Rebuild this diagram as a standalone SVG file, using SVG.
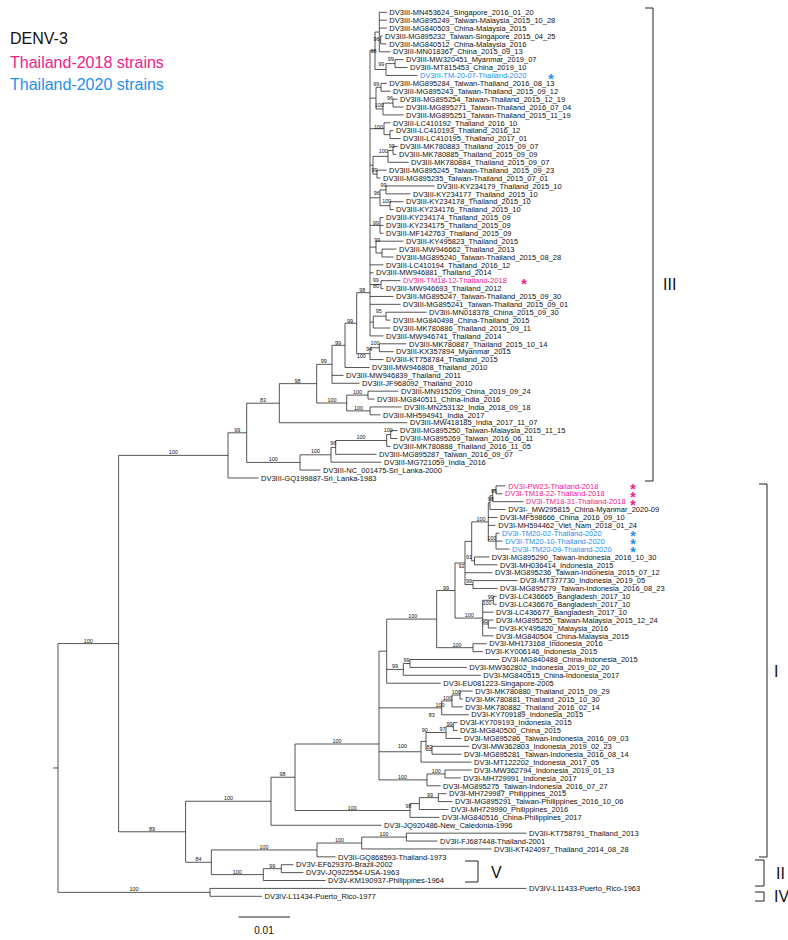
<svg xmlns="http://www.w3.org/2000/svg" width="788" height="940" viewBox="0 0 788 940">
<style>
text{font-family:"Liberation Sans",Arial,Helvetica,sans-serif;fill:#111}
.l{font-size:7.5px}
.b{font-size:5.4px;text-anchor:middle}
.p{fill:#f0208c}
.c{fill:#1e8ff0}
.ast{font-size:14px;font-weight:bold;text-anchor:middle}
.t path{fill:none;stroke:#1c1c1c;stroke-width:0.75}
.br{fill:none;stroke:#222;stroke-width:1}
.gl{font-size:16px}
.lg{font-size:16px}
</style>
<rect width="788" height="940" fill="#fff"/>
<g id="legend">
<text class="lg" x="10" y="44">DENV-3</text>
<text class="lg p" x="10" y="67.5">Thailand-2018 strains</text>
<text class="lg c" x="10" y="90">Thailand-2020 strains</text>
</g>
<g id="connectors" class="t">
<path d="M380.7,35.98V43.87M380.7,35.98H382.5M380.7,43.87H386.5"/>
<path d="M379.3,12.3V51.77M379.3,12.3H386.8M379.3,20.19H386.8M379.3,28.09H386.8M379.3,39.93H380.7M379.3,51.77H390.5"/>
<path d="M395,59.66V67.55M395,59.66H403.5M395,67.55H407.5"/>
<path d="M386,63.6V75.44M386,63.6H395M386,75.44H417.5"/>
<path d="M375,32.04V69.52M375,32.04H379.3M375,69.52H386"/>
<path d="M381,83.34V91.23M381,83.34H386.8M381,91.23H390.5"/>
<path d="M393,99.12V107.02M393,99.12H397.5M393,107.02H403.5"/>
<path d="M383,103.07V114.91M383,103.07H393M383,114.91H403.5"/>
<path d="M376,87.29V108.99M376,87.29H381M376,108.99H383"/>
<path d="M390,130.69V138.59M390,130.69H393.5M390,138.59H400.5"/>
<path d="M384,122.8V134.64M384,122.8H390.5M384,134.64H390"/>
<path d="M393,146.48V154.37M393,146.48H397.5M393,154.37H396.5"/>
<path d="M388,150.43V162.27M388,150.43H393M388,162.27H408.5"/>
<path d="M377,170.16V178.05M377,170.16H386.5M377,178.05H380.5"/>
<path d="M373,156.35V174.1M373,156.35H388M373,174.1H377"/>
<path d="M386,185.94V193.84M386,185.94H434.5M386,193.84H410.5"/>
<path d="M390,201.73V209.62M390,201.73H403.5M390,209.62H393.5"/>
<path d="M380,189.89V205.68M380,189.89H386M380,205.68H390"/>
<path d="M380,217.52V233.3M380,217.52H383.5M380,225.41H383.5M380,233.3H383.5"/>
<path d="M382,249.09V256.98M382,249.09H396.5M382,256.98H393.5"/>
<path d="M376,241.19V253M376,241.19H403.5M376,253H382"/>
<path d="M381,280.66V288.55M381,280.66H400.5M381,288.55H383.5"/>
<path d="M386,312.23V320.12M386,312.23H426.5M386,320.12H390.5"/>
<path d="M373.3,316.18V328.02M373.3,316.18H386M373.3,328.02H390.5"/>
<path d="M370,50.78V335.91M370,50.78H375M370,98.14H376M370,128.72H384M370,165.2H373M370,197.8H380M370,225.41H380M370,247.1H376M370,264.87H383.5M370,272.77H373.5M370,284.6H381M370,296.44H393.5M370,304.34H400.5M370,322.1H373.3M370,335.91H383.5"/>
<path d="M379.3,343.8V351.69M379.3,343.8H406.5M379.3,351.69H393.5"/>
<path d="M370,347.75V359.59M370,347.75H379.3M370,359.59H383.5"/>
<path d="M356.7,292.7V353.67M356.7,292.7H370M356.7,353.67H370"/>
<path d="M345,323.19V367.48M345,323.19H356.7M345,367.48H369.5"/>
<path d="M332,345.34V383.27M332,345.34H345M332,375.37H343.5M332,383.27H359.5"/>
<path d="M368,391.16V399.05M368,391.16H398.5M368,399.05H374.5"/>
<path d="M370,406.94V414.84M370,406.94H401.5M370,414.84H380.5"/>
<path d="M346.7,395.1V410.89M346.7,395.1H368M346.7,410.89H370"/>
<path d="M316.7,364.3V403M316.7,364.3H332M316.7,403H346.7"/>
<path d="M279.3,383.65V422.73M279.3,383.65H316.7M279.3,422.73H407.5"/>
<path d="M390.7,430.62V438.52M390.7,430.62H397.5M390.7,438.52H397.5"/>
<path d="M386.7,434.57V446.41M386.7,434.57H390.7M386.7,446.41H390.5"/>
<path d="M335.7,440.49V454.3M335.7,440.49H386.7M335.7,454.3H376.5"/>
<path d="M331,447.4V462.19M331,447.4H335.7M331,462.19H381.5"/>
<path d="M300,454.8V470.09M300,454.8H331M300,470.09H320.5"/>
<path d="M246.7,403.19V462.44M246.7,403.19H279.3M246.7,462.44H300"/>
<path d="M228,432.8V477.98M228,432.8H246.7M228,477.98H258.5"/>
<path d="M496,485.87V493.77M496,485.87H505.5M496,493.77H502.5"/>
<path d="M492.7,489.82V501.66M492.7,489.82H496M492.7,501.66H523.5"/>
<path d="M490,495.74V509.55M490,495.74H492.7M490,509.55H505.5"/>
<path d="M496,533.23V549.02M496,533.23H499.5M496,541.12H502.5M496,549.02H509.5"/>
<path d="M488.3,502.65V541.13M488.3,502.65H490M488.3,517.44H497.5M488.3,525.34H495.5M488.3,541.13H496"/>
<path d="M474.5,556.91V564.8M474.5,556.91H489.5M474.5,564.8H497.5"/>
<path d="M471.7,521.89V560.86M471.7,521.89H488.3M471.7,560.86H474.5"/>
<path d="M473,580.59V588.48M473,580.59H517.5M473,588.48H497.5"/>
<path d="M465,541.38V584.54M465,541.38H471.7M465,572.69H492.5M465,584.54H473"/>
<path d="M493.3,596.37V604.27M493.3,596.37H496.8M493.3,604.27H496.8"/>
<path d="M488.3,620.05V627.94M488.3,620.05H493.5M488.3,627.94H496.8"/>
<path d="M482.7,600.32V635.84M482.7,600.32H493.3M482.7,612.16H493.5M482.7,624H488.3M482.7,635.84H493.5"/>
<path d="M455,562.96V618.08M455,562.96H465M455,618.08H482.7"/>
<path d="M473,643.73V651.62M473,643.73H486.8M473,651.62H482.8"/>
<path d="M436.7,590.52V647.68M436.7,590.52H455M436.7,647.68H473"/>
<path d="M410,659.52V667.41M410,659.52H499.2M410,667.41H466.8"/>
<path d="M403.3,663.47V675.3M403.3,663.47H410M403.3,675.3H480.8"/>
<path d="M386.7,619.1V683.19M386.7,619.1H436.7M386.7,669.38H403.3M386.7,683.19H440.8"/>
<path d="M460,691.09V698.98M460,691.09H472.8M460,698.98H462.8"/>
<path d="M452,695.03V706.87M452,695.03H460M452,706.87H462.8"/>
<path d="M441.7,700.95V714.77M441.7,700.95H452M441.7,714.77H468.8"/>
<path d="M453.3,722.66V730.55M453.3,722.66H457.5M453.3,730.55H457.5"/>
<path d="M446,726.6V738.44M446,726.6H453.3M446,738.44H461.5"/>
<path d="M432,746.34V754.23M432,746.34H469.2M432,754.23H461.5"/>
<path d="M426,732.52V750.28M426,732.52H446M426,750.28H432"/>
<path d="M421,741.4V762.12M421,741.4H426M421,762.12H471.5"/>
<path d="M445,770.02V777.91M445,770.02H471.5M445,777.91H460.8"/>
<path d="M427,773.96V785.8M427,773.96H445M427,785.8H440.5"/>
<path d="M379,651.15V779.88M379,651.15H386.7M379,707.86H441.7M379,751.76H421M379,779.88H427"/>
<path d="M438.3,793.69V801.59M438.3,793.69H446.5M438.3,801.59H452.5"/>
<path d="M419.3,797.64V809.48M419.3,797.64H438.3M419.3,809.48H448.5"/>
<path d="M410,803.56V817.37M410,803.56H419.3M410,817.37H439.5"/>
<path d="M295,744V810.47M295,744H379M295,810.47H410"/>
<path d="M271,777.24V825.27M271,777.24H295M271,825.27H381.5"/>
<path d="M406.4,833.16V841.05M406.4,833.16H526.5M406.4,841.05H437.5"/>
<path d="M361.7,837.1V848.94M361.7,837.1H406.4M361.7,848.94H491.5"/>
<path d="M317,843.02V856.84M317,843.02H361.7M317,856.84H335.5"/>
<path d="M281.3,864.73V872.62M281.3,864.73H293.5M281.3,872.62H303.5"/>
<path d="M263.3,868.68V880.52M263.3,868.68H281.3M263.3,880.52H325.5"/>
<path d="M211.3,849.93V874.6M211.3,849.93H317M211.3,874.6H263.3"/>
<path d="M185.6,801.26V862.27M185.6,801.26H271M185.6,862.27H211.3"/>
<path d="M118.6,455.4V831.77M118.6,455.4H228M118.6,831.77H185.6"/>
<path d="M210,888.41V896.3M210,888.41H526.5M210,896.3H262"/>
<path d="M58,643.58V892.36M58,643.58H118.6M58,892.36H210M53,767.97H58"/>
</g>
<g id="support">
<text class="b" x="376.5" y="40.7">96</text>
<text class="b" x="373.5" y="53.4">98</text>
<text class="b" x="390.7" y="60.6">99</text>
<text class="b" x="381.3" y="66.4">99</text>
<text class="b" x="376.3" y="86">99</text>
<text class="b" x="390" y="99.9">96</text>
<text class="b" x="379.3" y="106.9">100</text>
<text class="b" x="378.5" y="129.4">100</text>
<text class="b" x="391.7" y="147.7">99</text>
<text class="b" x="383.3" y="153.2">100</text>
<text class="b" x="374.5" y="171.9">99</text>
<text class="b" x="383.5" y="186.9">99</text>
<text class="b" x="376.7" y="194.9">96</text>
<text class="b" x="386.8" y="202.9">100</text>
<text class="b" x="375.8" y="225.4">99</text>
<text class="b" x="377.2" y="242.2">99</text>
<text class="b" x="375.7" y="281.5">99</text>
<text class="b" x="376" y="287.7">80</text>
<text class="b" x="362.2" y="291.9">98</text>
<text class="b" x="378.7" y="313.1">95</text>
<text class="b" x="350" y="322.9">99</text>
<text class="b" x="375" y="344.9">100</text>
<text class="b" x="369.2" y="351.4">94</text>
<text class="b" x="361.3" y="357.7">100</text>
<text class="b" x="338" y="345.4">99</text>
<text class="b" x="323.7" y="363.4">99</text>
<text class="b" x="297.5" y="382.9">98</text>
<text class="b" x="332" y="401.9">100</text>
<text class="b" x="357.5" y="393.9">100</text>
<text class="b" x="358.5" y="409.9">100</text>
<text class="b" x="263" y="401.9">83</text>
<text class="b" x="237.3" y="431.9">99</text>
<text class="b" x="388.3" y="432.4">100</text>
<text class="b" x="361" y="439.4">100</text>
<text class="b" x="333.3" y="445.4">96</text>
<text class="b" x="315.5" y="453.4">100</text>
<text class="b" x="273.3" y="460.9">100</text>
<text class="b" x="173.3" y="453.9">100</text>
<text class="b" x="494" y="492.6">96</text>
<text class="b" x="490.7" y="500.6">98</text>
<text class="b" x="481" y="520.9">100</text>
<text class="b" x="491.7" y="539.9">100</text>
<text class="b" x="469" y="558.9">91</text>
<text class="b" x="461.5" y="567.9">92</text>
<text class="b" x="469" y="583.4">99</text>
<text class="b" x="446" y="589.7">99</text>
<text class="b" x="490.7" y="598.9">99</text>
<text class="b" x="487" y="604.9">100</text>
<text class="b" x="485" y="622.9">95</text>
<text class="b" x="469.3" y="617.2">100</text>
<text class="b" x="457" y="646.7">100</text>
<text class="b" x="412.7" y="618.2">100</text>
<text class="b" x="395" y="668.4">99</text>
<text class="b" x="406.5" y="662.4">99</text>
<text class="b" x="456.3" y="694.1">100</text>
<text class="b" x="447.5" y="699.9">100</text>
<text class="b" x="440" y="706.9">100</text>
<text class="b" x="431.7" y="717.2">83</text>
<text class="b" x="449.5" y="725.9">99</text>
<text class="b" x="442.5" y="731.4">97</text>
<text class="b" x="424.8" y="732.4">90</text>
<text class="b" x="429.5" y="749.4">82</text>
<text class="b" x="402.6" y="748.4">100</text>
<text class="b" x="436.3" y="772.9">100</text>
<text class="b" x="402.6" y="778.9">100</text>
<text class="b" x="337" y="742.9">100</text>
<text class="b" x="282.5" y="776.4">98</text>
<text class="b" x="352.3" y="809.6">100</text>
<text class="b" x="408.5" y="808.4">98</text>
<text class="b" x="430" y="796.7">99</text>
<text class="b" x="228.5" y="800.4">100</text>
<text class="b" x="264" y="848.9">100</text>
<text class="b" x="339.5" y="842.1">100</text>
<text class="b" x="384" y="836.2">100</text>
<text class="b" x="198.5" y="861.4">84</text>
<text class="b" x="237.3" y="873.7">100</text>
<text class="b" x="272.3" y="867.7">99</text>
<text class="b" x="152" y="830.9">89</text>
<text class="b" x="134" y="891.4">100</text>
<text class="b" x="88.3" y="642.7">100</text>
</g>
<g id="leaves">
<g id="leaf-MN453624"><text class="l" x="389.3" y="15">DV3III-MN453624_Singapore_2016_01_20</text></g>
<g id="leaf-MG895249"><text class="l" x="389.3" y="22.89">DV3III-MG895249_Taiwan-Malaysia_2015_10_28</text></g>
<g id="leaf-MG840503"><text class="l" x="389.3" y="30.79">DV3III-MG840503_China-Malaysia_2015</text></g>
<g id="leaf-MG895232"><text class="l" x="385" y="38.68">DV3III-MG895232_Taiwan-Singapore_2015_04_25</text></g>
<g id="leaf-MG840512"><text class="l" x="389.3" y="46.57">DV3III-MG840512_China-Malaysia_2016</text></g>
<g id="leaf-MN018367"><text class="l" x="393" y="54.47">DV3III-MN018367_China_2015_09_13</text></g>
<g id="leaf-MW320451"><text class="l" x="406" y="62.36">DV3III-MW320451_Myanmar_2019_07</text></g>
<g id="leaf-MT815453"><text class="l" x="410" y="70.25">DV3III-MT815453_China_2019_10</text></g>
<g id="leaf-TM-20-07"><text class="l c" x="420" y="78.14">DV3III-TM-20-07-Thailand-2020</text><text class="ast c" x="551" y="83.6">*</text></g>
<g id="leaf-MG895284"><text class="l" x="389.3" y="86.04">DV3III-MG895284_Taiwan-Thailand_2016_08_13</text></g>
<g id="leaf-MG895243"><text class="l" x="393" y="93.93">DV3III-MG895243_Taiwan-Thailand_2015_09_12</text></g>
<g id="leaf-MG895254"><text class="l" x="400" y="101.82">DV3III-MG895254_Taiwan-Thailand_2015_12_19</text></g>
<g id="leaf-MG895271"><text class="l" x="406" y="109.72">DV3III-MG895271_Taiwan-Thailand_2016_07_04</text></g>
<g id="leaf-MG895251"><text class="l" x="406" y="117.61">DV3III-MG895251_Taiwan-Thailand_2015_11_19</text></g>
<g id="leaf-LC410192"><text class="l" x="393" y="125.5">DV3III-LC410192_Thailand_2016_10</text></g>
<g id="leaf-LC410193"><text class="l" x="396" y="133.39">DV3III-LC410193_Thailand_2016_12</text></g>
<g id="leaf-LC410195"><text class="l" x="403" y="141.29">DV3III-LC410195_Thailand_2017_01</text></g>
<g id="leaf-MK780883"><text class="l" x="400" y="149.18">DV3III-MK780883_Thailand_2015_09_07</text></g>
<g id="leaf-MK780885"><text class="l" x="399" y="157.07">DV3III-MK780885_Thailand_2015_09_09</text></g>
<g id="leaf-MK780884"><text class="l" x="411" y="164.97">DV3III-MK780884_Thailand_2015_09_07</text></g>
<g id="leaf-MG895245"><text class="l" x="389" y="172.86">DV3III-MG895245_Taiwan-Thailand_2015_09_23</text></g>
<g id="leaf-MG895235"><text class="l" x="383" y="180.75">DV3III-MG895235_Taiwan-Thailand_2015_07_01</text></g>
<g id="leaf-KY234179"><text class="l" x="437" y="188.64">DV3III-KY234179_Thailand_2015_10</text></g>
<g id="leaf-KY234177"><text class="l" x="413" y="196.54">DV3III-KY234177_Thailand_2015_10</text></g>
<g id="leaf-KY234178"><text class="l" x="406" y="204.43">DV3III-KY234178_Thailand_2015_10</text></g>
<g id="leaf-KY234176"><text class="l" x="396" y="212.32">DV3III-KY234176_Thailand_2015_10</text></g>
<g id="leaf-KY234174"><text class="l" x="386" y="220.22">DV3III-KY234174_Thailand_2015_09</text></g>
<g id="leaf-KY234175"><text class="l" x="386" y="228.11">DV3III-KY234175_Thailand_2015_09</text></g>
<g id="leaf-MF142763"><text class="l" x="386" y="236">DV3III-MF142763_Thailand_2015_09</text></g>
<g id="leaf-KY495823"><text class="l" x="406" y="243.89">DV3III-KY495823_Thailand_2015</text></g>
<g id="leaf-MW946662"><text class="l" x="399" y="251.79">DV3III-MW946662_Thailand_2013</text></g>
<g id="leaf-MG895240"><text class="l" x="396" y="259.68">DV3III-MG895240_Taiwan-Thailand_2015_08_28</text></g>
<g id="leaf-LC410194"><text class="l" x="386" y="267.57">DV3III-LC410194_Thailand_2016_12</text></g>
<g id="leaf-MW946881"><text class="l" x="376" y="275.47">DV3III-MW946881_Thailand_2014</text></g>
<g id="leaf-TM18-12"><text class="l p" x="403" y="283.36">DV3III-TM18-12-Thailand-2018</text><text class="ast p" x="524" y="288.8">*</text></g>
<g id="leaf-MW946693"><text class="l" x="386" y="291.25">DV3III-MW946693_Thailand_2012</text></g>
<g id="leaf-MG895247"><text class="l" x="396" y="299.14">DV3III-MG895247_Taiwan-Thailand_2015_09_30</text></g>
<g id="leaf-MG895241"><text class="l" x="403" y="307.04">DV3III-MG895241_Taiwan-Thailand_2015_09_01</text></g>
<g id="leaf-MN018378"><text class="l" x="429" y="314.93">DV3III-MN018378_China_2015_09_30</text></g>
<g id="leaf-MG840498"><text class="l" x="393" y="322.82">DV3III-MG840498_China-Thailand_2015</text></g>
<g id="leaf-MK780886"><text class="l" x="393" y="330.72">DV3III-MK780886_Thailand_2015_09_11</text></g>
<g id="leaf-MW946741"><text class="l" x="386" y="338.61">DV3III-MW946741_Thailand_2014</text></g>
<g id="leaf-MK780887"><text class="l" x="409" y="346.5">DV3III-MK780887_Thailand_2015_10_14</text></g>
<g id="leaf-KX357894"><text class="l" x="396" y="354.39">DV3III-KX357894_Myanmar_2015</text></g>
<g id="leaf-KT758784"><text class="l" x="386" y="362.29">DV3III-KT758784_Thailand_2015</text></g>
<g id="leaf-MW946808"><text class="l" x="372" y="370.18">DV3III-MW946808_Thailand_2010</text></g>
<g id="leaf-MW946839"><text class="l" x="346" y="378.07">DV3III-MW946839_Thailand_2011</text></g>
<g id="leaf-JF968092"><text class="l" x="362" y="385.97">DV3III-JF968092_Thailand_2010</text></g>
<g id="leaf-MN915209"><text class="l" x="401" y="393.86">DV3III-MN915209_China_2019_09_24</text></g>
<g id="leaf-MG840511"><text class="l" x="377" y="401.75">DV3III-MG840511_China-India_2016</text></g>
<g id="leaf-MN253132"><text class="l" x="404" y="409.64">DV3III-MN253132_India_2018_09_18</text></g>
<g id="leaf-MH594941"><text class="l" x="383" y="417.54">DV3III-MH594941_India_2017</text></g>
<g id="leaf-MW418185"><text class="l" x="410" y="425.43">DV3III-MW418185_India_2017_11_07</text></g>
<g id="leaf-MG895250"><text class="l" x="400" y="433.32">DV3III-MG895250_Taiwan-Malaysia_2015_11_15</text></g>
<g id="leaf-MG895269"><text class="l" x="400" y="441.22">DV3III-MG895269_Taiwan_2016_06_11</text></g>
<g id="leaf-MK780888"><text class="l" x="393" y="449.11">DV3III-MK780888_Thailand_2016_11_05</text></g>
<g id="leaf-MG895287"><text class="l" x="379" y="457">DV3III-MG895287_Taiwan_2016_09_07</text></g>
<g id="leaf-MG721059"><text class="l" x="384" y="464.89">DV3III-MG721059_India_2016</text></g>
<g id="leaf-NC_001475"><text class="l" x="323" y="472.79">DV3III-NC_001475-Sri_Lanka-2000</text></g>
<g id="leaf-GQ199887"><text class="l" x="261" y="480.68">DV3III-GQ199887-Sri_Lanka-1983</text></g>
<g id="leaf-PW23"><text class="l p" x="508.3" y="488.57">DV3I-PW23-Thailand-2018</text><text class="ast p" x="633" y="494">*</text></g>
<g id="leaf-TM18-22"><text class="l p" x="505" y="496.47">DV3I-TM18-22-Thailand-2018</text><text class="ast p" x="633" y="501.9">*</text></g>
<g id="leaf-TM18-31"><text class="l p" x="526" y="504.36">DV3I-TM18-31-Thailand-2018</text><text class="ast p" x="633" y="509.8">*</text></g>
<g id="leaf-MW295815"><text class="l" x="508.3" y="512.25">DV3I-_MW295815_China-Myanmar_2020-09</text></g>
<g id="leaf-MF598666"><text class="l" x="500" y="520.14">DV3I-MF598666_China_2016_09_10</text></g>
<g id="leaf-MH594462"><text class="l" x="498.3" y="528.04">DV3I-MH594462_Viet_Nam_2018_01_24</text></g>
<g id="leaf-TM20-02"><text class="l c" x="502" y="535.93">DV3I-TM20-02-Thailand-2020</text><text class="ast c" x="633" y="541.4">*</text></g>
<g id="leaf-TM20-10"><text class="l c" x="505.3" y="543.82">DV3I-TM20-10-Thailand-2020</text><text class="ast c" x="633" y="549.3">*</text></g>
<g id="leaf-TM20-09"><text class="l c" x="512" y="551.72">DV3I-TM20-09-Thailand-2020</text><text class="ast c" x="633" y="557.2">*</text></g>
<g id="leaf-MG895290"><text class="l" x="491.7" y="559.61">DV3I-MG895290_Taiwan-Indonesia_2016_10_30</text></g>
<g id="leaf-MH036414"><text class="l" x="500" y="567.5">DV3I-MH036414_Indonesia_2015</text></g>
<g id="leaf-MG895236"><text class="l" x="495" y="575.39">DV3I-MG895236_Taiwan-Indonesia_2015_07_12</text></g>
<g id="leaf-MT377730"><text class="l" x="520" y="583.29">DV3I-MT377730_Indonesia_2019_05</text></g>
<g id="leaf-MG895279"><text class="l" x="500" y="591.18">DV3I-MG895279_Taiwan-Indonesia_2016_08_23</text></g>
<g id="leaf-LC436665"><text class="l" x="499.3" y="599.07">DV3I-LC436665_Bangladesh_2017_10</text></g>
<g id="leaf-LC436676"><text class="l" x="499.3" y="606.97">DV3I-LC436676_Bangladesh_2017_10</text></g>
<g id="leaf-LC436677"><text class="l" x="496" y="614.86">DV3I-LC436677_Bangladesh_2017_10</text></g>
<g id="leaf-MG895255"><text class="l" x="496" y="622.75">DV3I-MG895255_Taiwan-Malaysia_2015_12_24</text></g>
<g id="leaf-KY495820"><text class="l" x="499.3" y="630.64">DV3I-KY495820_Malaysia_2016</text></g>
<g id="leaf-MG840504"><text class="l" x="496" y="638.54">DV3I-MG840504_China-Malaysia_2015</text></g>
<g id="leaf-MH173168"><text class="l" x="489.3" y="646.43">DV3I-MH173168_Indonesia_2016</text></g>
<g id="leaf-KY006146"><text class="l" x="485.3" y="654.32">DV3I-KY006146_Indonesia_2015</text></g>
<g id="leaf-MG840488"><text class="l" x="501.7" y="662.22">DV3I-MG840488_China-Indonesia_2015</text></g>
<g id="leaf-MW362802"><text class="l" x="469.3" y="670.11">DV3I-MW362802_Indonesia_2019_02_20</text></g>
<g id="leaf-MG840515"><text class="l" x="483.3" y="678">DV3I-MG840515_China-Indonesia_2017</text></g>
<g id="leaf-EU081223"><text class="l" x="443.3" y="685.89">DV3I-EU081223-Singapore-2005</text></g>
<g id="leaf-MK780880"><text class="l" x="475.3" y="693.79">DV3I-MK780880_Thailand_2015_09_29</text></g>
<g id="leaf-MK780881"><text class="l" x="465.3" y="701.68">DV3I-MK780881_Thailand_2015_10_30</text></g>
<g id="leaf-MK780882"><text class="l" x="465.3" y="709.57">DV3I-MK780882_Thailand_2016_02_14</text></g>
<g id="leaf-KY709189"><text class="l" x="471.3" y="717.47">DV3I-KY709189_Indonesia_2015</text></g>
<g id="leaf-KY709193"><text class="l" x="460" y="725.36">DV3I-KY709193_Indonesia_2015</text></g>
<g id="leaf-MG840500"><text class="l" x="460" y="733.25">DV3I-MG840500_China_2015</text></g>
<g id="leaf-MG895286"><text class="l" x="464" y="741.14">DV3I-MG895286_Taiwan-Indonesia_2016_09_03</text></g>
<g id="leaf-MW362803"><text class="l" x="471.7" y="749.04">DV3I-MW362803_Indonesia_2019_02_23</text></g>
<g id="leaf-MG895281"><text class="l" x="464" y="756.93">DV3I-MG895281_Taiwan-Indonesia_2016_08_14</text></g>
<g id="leaf-MT122202"><text class="l" x="474" y="764.82">DV3I-MT122202_Indonesia_2017_05</text></g>
<g id="leaf-MW362794"><text class="l" x="474" y="772.72">DV3I-MW362794_Indonesia_2019_01_13</text></g>
<g id="leaf-MH729991"><text class="l" x="463.3" y="780.61">DV3I-MH729991_Indonesia_2017</text></g>
<g id="leaf-MG895275"><text class="l" x="443" y="788.5">DV3I-MG895275_Taiwan-Indonesia_2016_07_27</text></g>
<g id="leaf-MH729987"><text class="l" x="449" y="796.39">DV3I-MH729987_Philippines_2015</text></g>
<g id="leaf-MG895291"><text class="l" x="455" y="804.29">DV3I-MG895291_Taiwan-Philippines_2016_10_06</text></g>
<g id="leaf-MH729990"><text class="l" x="451" y="812.18">DV3I-MH729990_Philippines_2016</text></g>
<g id="leaf-MG840516"><text class="l" x="442" y="820.07">DV3I-MG840516_China-Philippines_2017</text></g>
<g id="leaf-JQ920486"><text class="l" x="384" y="827.97">DV3I-JQ920486-New_Caledonia-1996</text></g>
<g id="leaf-KT758791"><text class="l" x="529" y="835.86">DV3II-KT758791_Thailand_2013</text></g>
<g id="leaf-FJ687448"><text class="l" x="440" y="843.75">DV3II-FJ687448-Thailand-2001</text></g>
<g id="leaf-KT424097"><text class="l" x="494" y="851.64">DV3II-KT424097_Thailand_2014_08_28</text></g>
<g id="leaf-GQ868593"><text class="l" x="338" y="859.54">DV3II-GQ868593-Thailand-1973</text></g>
<g id="leaf-EF629370"><text class="l" x="296" y="867.43">DV3V-EF629370-Brazil-2002</text></g>
<g id="leaf-JQ922554"><text class="l" x="306" y="875.32">DV3V-JQ922554-USA-1963</text></g>
<g id="leaf-KM190937"><text class="l" x="328" y="883.22">DV3V-KM190937-Philippines-1964</text></g>
<g id="leaf-L11433"><text class="l" x="529" y="891.11">DV3IV-L11433-Puerto_Rico-1963</text></g>
<g id="leaf-L11434"><text class="l" x="264.5" y="899">DV3IV-L11434-Puerto_Rico-1977</text></g>
</g>
<g id="clades">
<path class="br" d="M645,8H653V481H645"/>
<text class="gl" x="663" y="290">III</text>
<path class="br" d="M759,484H767V857H759"/>
<text class="gl" x="774" y="677">I</text>
<path class="br" d="M755,860H764V886H755"/>
<text class="gl" x="776" y="879">II</text>
<path class="br" d="M465,861H478V882H465"/>
<text class="gl" x="491" y="878">V</text>
<path class="br" d="M755,892H764V901H755"/>
<text class="gl" x="774" y="902">IV</text>
</g>
<g id="scale">
<path d="M238.5,917H290" fill="none" stroke="#222" stroke-width="1"/>
<text x="264" y="934" font-size="10" text-anchor="middle">0.01</text>
</g>
</svg>
